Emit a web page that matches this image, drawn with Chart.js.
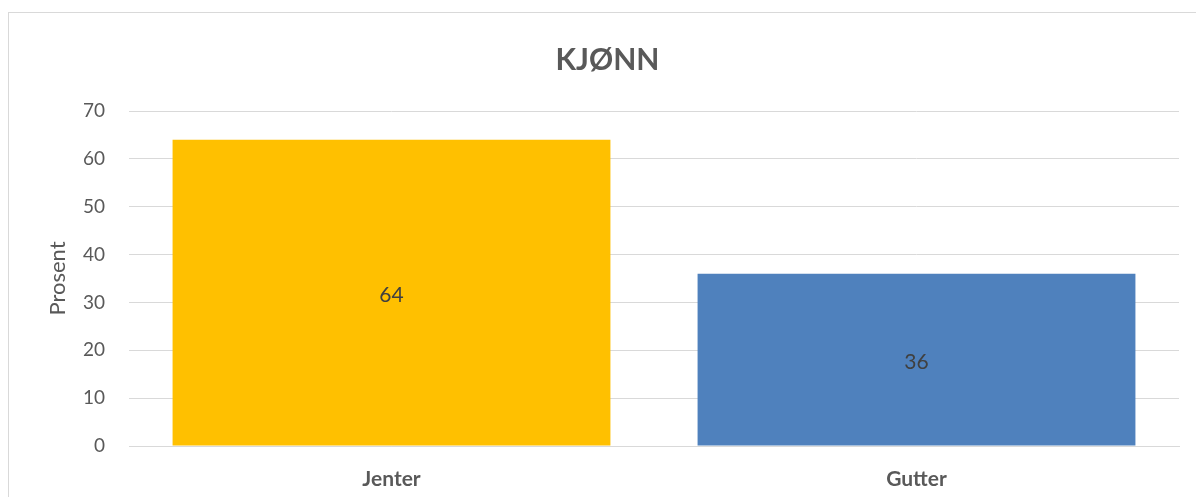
<!DOCTYPE html>
<html lang="no">
  <head>
    <meta charset="UTF-8" />
    <title>Kjønn</title>
    <script src="https://cdn.jsdelivr.net/npm/chart.js"></script>
    <style>
      html, body { margin: 0; padding: 0; background: #fff; overflow: hidden; }
      #wrap { position: relative; width: 1196px; height: 497px; }
      #frame {
        position: absolute; left: 8px; top: 12px; width: 1200px; height: 500px;
        border: 1px solid #d9d9d9; box-sizing: border-box;
      }
      canvas { position: absolute; left: 0; top: 0; }
    </style>
  </head>
  <body>
    <div id="wrap">
      <div id="frame"></div>
      <canvas id="kjonnChart" width="1196" height="497"></canvas>
    </div>

    <script>
      // data
      const categories = ["Jenter", "Gutter"];
      const values = [64, 36];
      const barColors = ["#FFC000", "#4F81BD"];
      const yTicks = [0, 10, 20, 30, 40, 50, 60, 70];

      const textColor = "#595959";
      const fontFamily = "Lato, 'Open Sans', sans-serif";

      // draws the value in the middle of each bar
      const valueLabels = {
        id: "valueLabels",
        afterDatasetsDraw(chart) {
          const ctx = chart.ctx;
          const meta = chart.getDatasetMeta(0);
          ctx.save();
          ctx.font = "21px " + fontFamily;
          ctx.fillStyle = "#404040";
          ctx.textAlign = "center";
          ctx.textBaseline = "middle";
          meta.data.forEach((bar, i) => {
            const mid = (bar.y + bar.base) / 2;
            ctx.fillText(String(values[i]), bar.x, mid + 3);
          });
          ctx.restore();
        },
      };

      new Chart(document.getElementById("kjonnChart"), {
        type: "bar",
        data: {
          labels: categories,
          datasets: [
            {
              data: values,
              backgroundColor: barColors,
              borderWidth: 0,
              categoryPercentage: 1,
              barPercentage: 0.834,
            },
          ],
        },
        plugins: [valueLabels],
        options: {
          responsive: false,
          animation: false,
          layout: { padding: { left: 36, right: 17, top: 0, bottom: 0 } },
          plugins: {
            legend: { display: false },
            tooltip: { enabled: false },
            title: {
              display: true,
              text: "KJØNN",
              color: textColor,
              font: { family: fontFamily, size: 30, weight: "bold" },
              padding: { top: 42, bottom: 33 },
            },
          },
          scales: {
            x: {
              grid: { display: false, drawTicks: false },
              border: { display: true, color: "#d9d9d9", width: 1 },
              ticks: {
                color: textColor,
                padding: 21,
                font: { family: fontFamily, size: 21, weight: "bold" },
              },
              afterFit(scale) { scale.height = 51; },
            },
            y: {
              min: 0,
              max: 70,
              afterBuildTicks(scale) {
                scale.ticks = yTicks.map((v) => ({ value: v }));
              },
              grid: { color: "#d9d9d9", lineWidth: 1, drawTicks: false },
              border: { display: false },
              ticks: {
                color: textColor,
                padding: 24,
                font: { family: fontFamily, size: 19 },
              },
              title: {
                display: true,
                text: "Prosent",
                color: textColor,
                font: { family: fontFamily, size: 22 },
                padding: { top: 9, bottom: 0 },
              },
              afterFit(scale) { scale.width = 93; },
            },
          },
        },
      });
    </script>
  </body>
</html>
